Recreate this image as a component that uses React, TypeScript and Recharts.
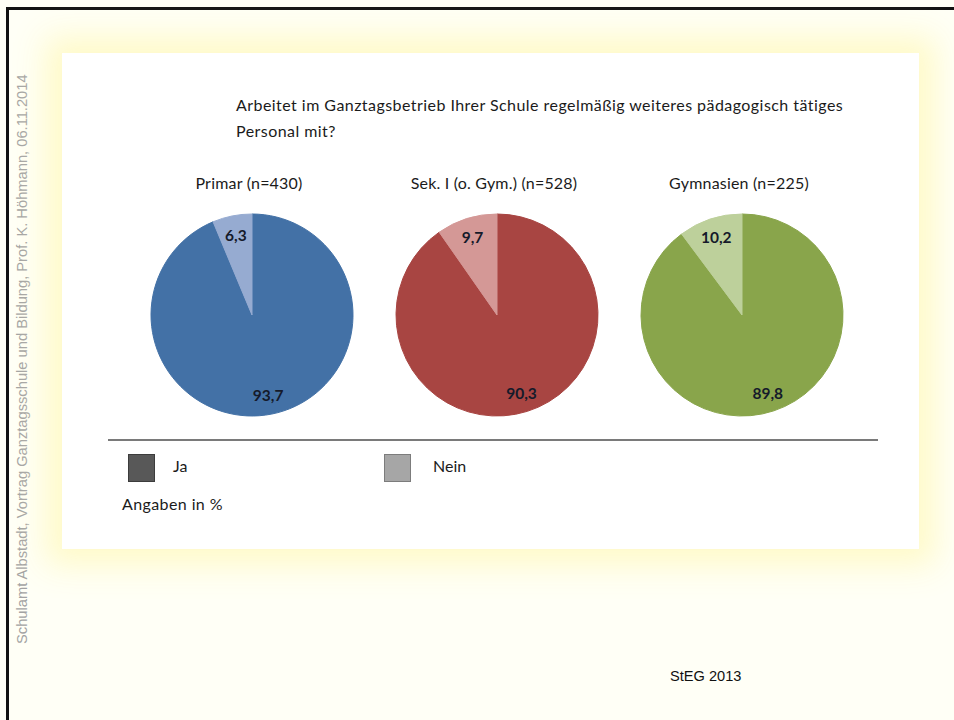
import { PieChart, Pie, Cell } from "recharts";

const groups = ["Primar (n=430)", "Sek. I (o. Gym.) (n=528)", "Gymnasien (n=225)"];
const answers = ["Ja", "Nein"];
const jaValues = [93.7, 90.3, 89.8];
const neinValues = [6.3, 9.7, 10.2];

const jaColors = ["#4371a6", "#a84542", "#89a54b"];
const neinColors = ["#96abd1", "#d49896", "#bdd09b"];
const pieCentersX = [252, 497, 742];
const PIE_CY = 315;
const PIE_R = 101;
const BOX = 240;

const RAD = Math.PI / 180;
const calibri = "Lato, 'Open Sans', sans-serif";

function renderLabel(props: any) {
  const { cx, cy, midAngle, outerRadius, value } = props;
  const r = outerRadius * 0.81;
  const x = cx + r * Math.cos(-midAngle * RAD);
  const y = cy + r * Math.sin(-midAngle * RAD);
  return (
    <text
      x={x}
      y={y}
      textAnchor="middle"
      dominantBaseline="central"
      fill="#151a2a"
      fontFamily={calibri}
      fontWeight={700}
      fontSize={15.5}
    >
      {String(value).replace(".", ",")}
    </text>
  );
}

export default function App() {
  return (
    <div
      style={{
        position: "absolute",
        left: 0,
        top: 0,
        width: 954,
        height: 720,
        overflow: "hidden",
        background: "#fffff6",
        fontFamily: calibri,
      }}
    >
      {/* slide frame (only top and left edges visible) */}
      <div style={{ position: "absolute", left: 6, top: 7, width: 960, height: 2.5, background: "#111" }} />
      <div style={{ position: "absolute", left: 6, top: 7, width: 2.5, height: 720, background: "#111" }} />

      <svg style={{ position: "absolute", left: 0, top: 0 }} width={954} height={720}>
        <text
          x={22}
          y={644}
          transform="rotate(-90, 22, 644)"
          dominantBaseline="central"
          fill="#a3a3a3"
          fontFamily="'Liberation Sans', Arial, sans-serif"
          fontSize={14.7}
        >
          Schulamt Albstadt, Vortrag Ganztagsschule und Bildung, Prof. K. Höhmann, 06.11.2014
        </text>
        <text
          x={670}
          y={676}
          dominantBaseline="central"
          fill="#111"
          fontFamily="'Liberation Sans', Arial, sans-serif"
          fontSize={14.6}
        >
          StEG 2013
        </text>
      </svg>

      {/* white panel */}
      <div
        style={{
          position: "absolute",
          left: 62,
          top: 53,
          width: 857,
          height: 496,
          background: "#ffffff",
          boxShadow: "0 0 30px 16px rgba(255, 249, 195, 0.9)",
        }}
      />

      <div
        style={{
          position: "absolute",
          left: 236,
          top: 92,
          fontSize: 16,
          letterSpacing: 0.45,
          color: "#1b1b1b",
          lineHeight: "26px",
        }}
      >
        Arbeitet im Ganztagsbetrieb Ihrer Schule regelmäßig weiteres pädagogisch tätiges
        <br />
        Personal mit?
      </div>

      {groups.map((g, i) => {
        const data = answers.map((name, j) => ({ name, value: j === 0 ? jaValues[i] : neinValues[i] }));
        const colors = [jaColors[i], neinColors[i]];
        return (
          <div key={g}>
            <div
              style={{
                position: "absolute",
                left: pieCentersX[i] - 120 - 3,
                width: 240,
                top: 173,
                textAlign: "center",
                fontSize: 16,
                letterSpacing: 0.2,
                color: "#1b1b1b",
              }}
            >
              {g}
            </div>
            <div style={{ position: "absolute", left: pieCentersX[i] - BOX / 2, top: PIE_CY - BOX / 2 }}>
              <PieChart width={BOX} height={BOX} margin={{ top: 0, right: 0, bottom: 0, left: 0 }}>
                <Pie
                  data={data}
                  dataKey="value"
                  nameKey="name"
                  cx="50%"
                  cy="50%"
                  outerRadius={PIE_R}
                  startAngle={90}
                  endAngle={-270}
                  label={renderLabel}
                  labelLine={false}
                  isAnimationActive={false}
                >
                  {data.map((d, j) => (
                    <Cell key={d.name} fill={colors[j]} stroke={colors[j]} />
                  ))}
                </Pie>
              </PieChart>
            </div>
          </div>
        );
      })}

      {/* divider */}
      <div style={{ position: "absolute", left: 108, top: 439, width: 770, height: 1.5, background: "#7a7a7a" }} />

      {/* legend */}
      <div
        style={{
          position: "absolute",
          left: 128,
          top: 454,
          width: 25,
          height: 26,
          background: "#585858",
          border: "1px solid #3c3c3c",
        }}
      />
      <div style={{ position: "absolute", left: 173, top: 456, fontSize: 16, color: "#1b1b1b" }}>{answers[0]}</div>
      <div
        style={{
          position: "absolute",
          left: 384,
          top: 454,
          width: 25,
          height: 26,
          background: "#a6a6a6",
          border: "1px solid #7c7c7c",
        }}
      />
      <div style={{ position: "absolute", left: 433, top: 456, fontSize: 16, color: "#1b1b1b" }}>{answers[1]}</div>
      <div style={{ position: "absolute", left: 122, top: 494, fontSize: 16, letterSpacing: 0.4, color: "#1b1b1b" }}>
        Angaben in %
      </div>
    </div>
  );
}
